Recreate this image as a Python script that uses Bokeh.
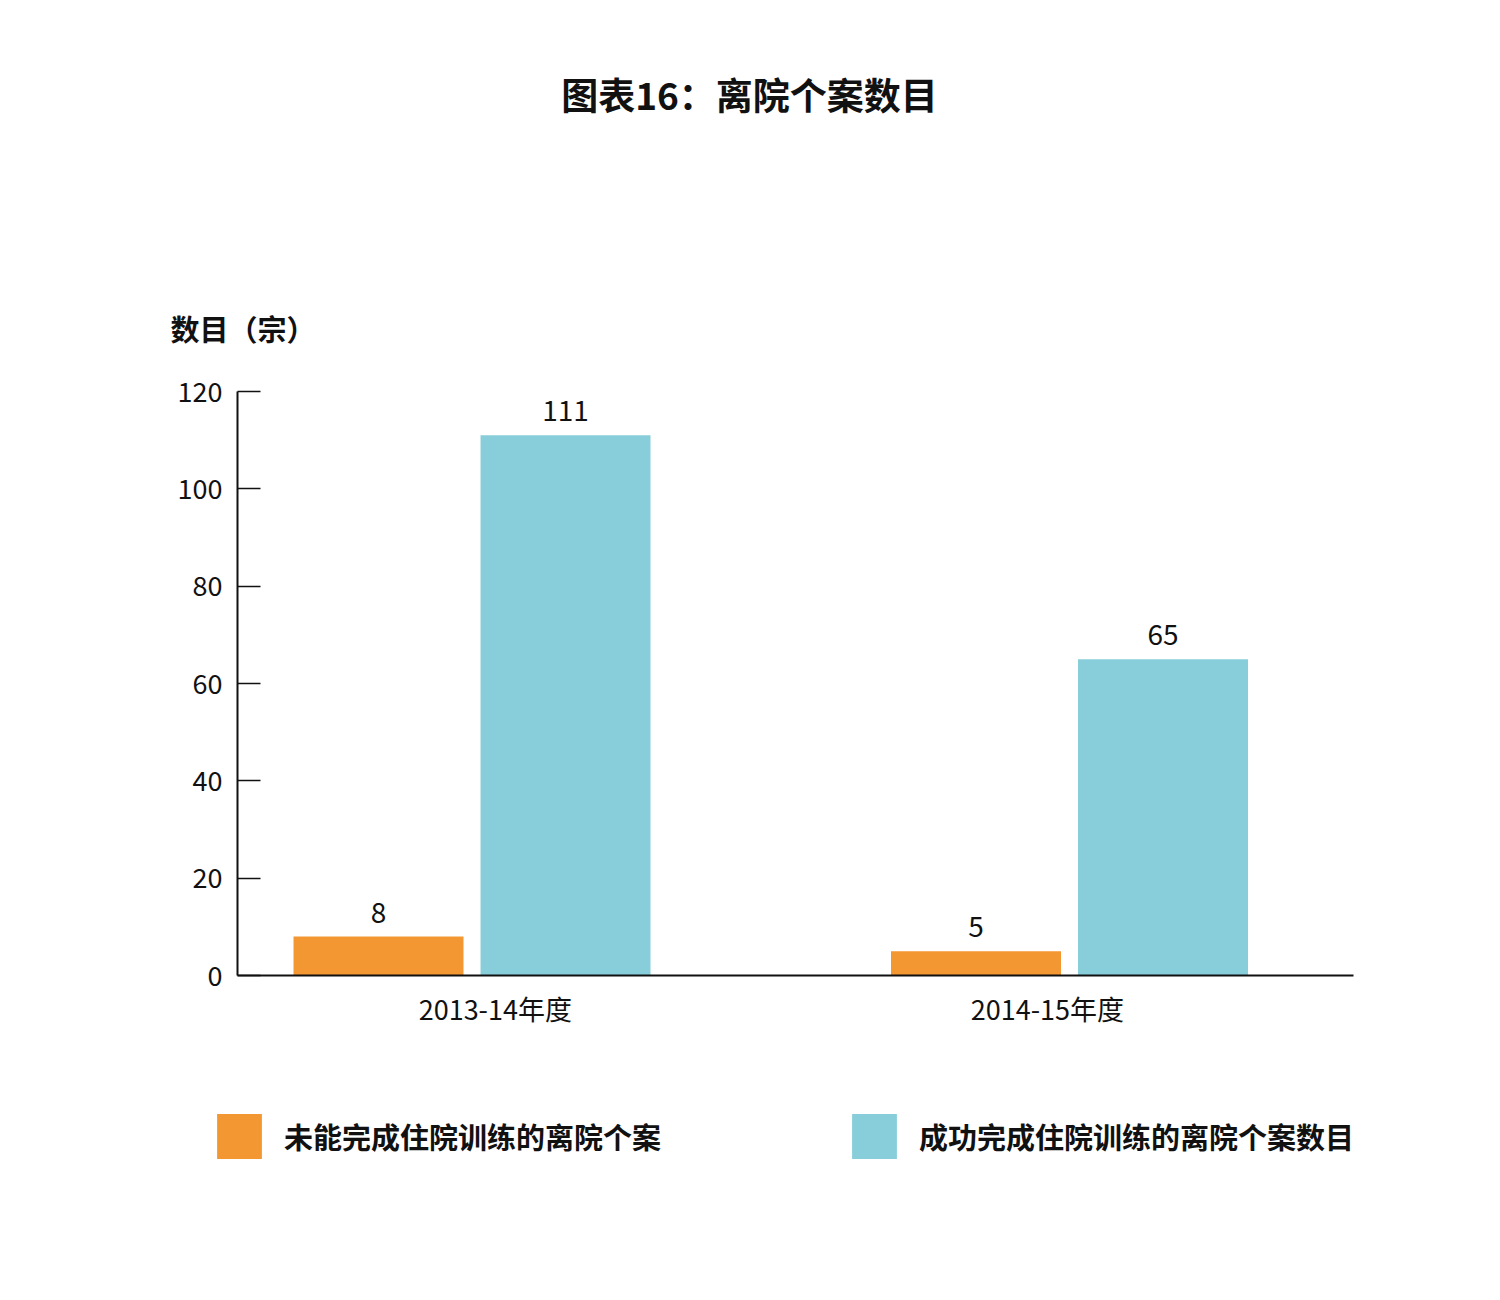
from bokeh.plotting import figure
from bokeh.models import (ColumnDataSource, Range1d, FixedTicker, Label, Legend, LegendItem)
from bokeh.transform import dodge
from bokeh.core.properties import value
from bokeh.embed import file_html
from bokeh.resources import INLINE

# ---- data ----
years = ["2013-14年度", "2014-15年度"]
incomplete = [8, 5]          # 未能完成住院训练的离院个案
complete = [111, 65]         # 成功完成住院训练的离院个案数目
series_names = ["未能完成住院训练的离院个案", "成功完成住院训练的离院个案数目"]
y_ticks = [0, 20, 40, 60, 80, 100, 120]
title_text = "图表16：离院个案数目"
y_label_text = "数目（宗）"

colors = ["#F39733", "#87CEDA"]
FONT = "Noto Sans CJK SC"

idx = [i + 1 for i in range(len(years))]
src = ColumnDataSource(dict(
    x=idx,
    inc=incomplete,
    comp=complete,
    inc_lbl=[str(v) for v in incomplete],
    comp_lbl=[str(v) for v in complete],
))

# layout (pixels): plotting area 237..1353 horizontally, 391..975 vertically
W, H = 1480, 1280
PL, PR, PT, PB = 237, 1353, 391, 975
x_lo, x_hi = 0.6075, 2.4753
y_lo, y_hi = 0, 120
xpp = (x_hi - x_lo) / (PR - PL)
ypp = (y_hi - y_lo) / (PB - PT)

p = figure(width=W, height=H, output_backend="svg", toolbar_location=None,
           x_range=Range1d(x_lo - PL * xpp, x_hi + (W - PR) * xpp),
           y_range=Range1d(y_lo - (H - PB) * ypp, y_hi + PT * ypp),
           min_border=0)
p.outline_line_color = None
p.xgrid.grid_line_color = None
p.ygrid.grid_line_color = None

off = 0.1565
bw = 0.2845
r1 = p.vbar(x=dodge("x", -off, range=p.x_range), top="inc", width=bw, bottom=0,
            source=src, fill_color=colors[0], line_color=None)
r2 = p.vbar(x=dodge("x", off, range=p.x_range), top="comp", width=bw, bottom=0,
            source=src, fill_color=colors[1], line_color=None)

for col, lab, dx in (("inc", "inc_lbl", -off), ("comp", "comp_lbl", off)):
    p.text(x=dodge("x", dx, range=p.x_range), y=col, text=lab, source=src,
           text_align="center", text_baseline="bottom", y_offset=-14,
           text_font=value(FONT), text_font_size="28px", text_color="#111111")

# y axis
ya = p.yaxis[0]
ya.fixed_location = x_lo
ya.bounds = (y_lo, y_hi)
ya.ticker = FixedTicker(ticks=y_ticks)
ya.major_tick_in = 23
ya.major_tick_out = 0
ya.minor_tick_line_color = None
ya.axis_line_width = 2
ya.major_tick_line_width = 1.5
ya.axis_line_color = "#111111"
ya.major_tick_line_color = "#111111"
ya.major_label_standoff = 15
ya.major_label_text_font = FONT
ya.major_label_text_font_size = "27px"
ya.major_label_text_color = "#111111"

# x axis
xa = p.xaxis[0]
xa.fixed_location = y_lo
xa.bounds = (x_lo, x_hi)
lbl_pos = [1.039, 1.963]
xa.ticker = FixedTicker(ticks=lbl_pos)
xa.major_label_overrides = {t: y for t, y in zip(lbl_pos, years)}
xa.major_tick_line_color = None
xa.minor_tick_line_color = None
xa.axis_line_width = 2
xa.axis_line_color = "#111111"
xa.major_label_standoff = 7
xa.major_label_text_font = FONT
xa.major_label_text_font_size = "27px"
xa.major_label_text_color = "#111111"

# title and y-axis caption (screen px from bottom-left)
p.add_layout(Label(x=749, y=H - 93, x_units="screen", y_units="screen", text=title_text,
                   text_align="center", text_baseline="middle",
                   text_font=FONT, text_font_size="37px", text_font_style="bold",
                   text_color="#111111"))
p.add_layout(Label(x=170, y=H - 327, x_units="screen", y_units="screen", text=y_label_text,
                   text_align="left", text_baseline="middle",
                   text_font=FONT, text_font_size="29px", text_font_style="bold",
                   text_color="#111111"))

legend = Legend(items=[LegendItem(label=series_names[0], renderers=[r1]),
                       LegendItem(label=series_names[1], renderers=[r2])],
                orientation="horizontal", location=(211, H - 1164),
                glyph_width=56, glyph_height=56, label_standoff=17, spacing=185,
                padding=0, margin=0, border_line_color=None, background_fill_alpha=0,
                label_text_font=FONT, label_text_font_size="29px",
                label_text_font_style="bold", label_text_color="#111111")
p.add_layout(legend, "center")

open("out.html", "w").write(file_html(p, INLINE))
